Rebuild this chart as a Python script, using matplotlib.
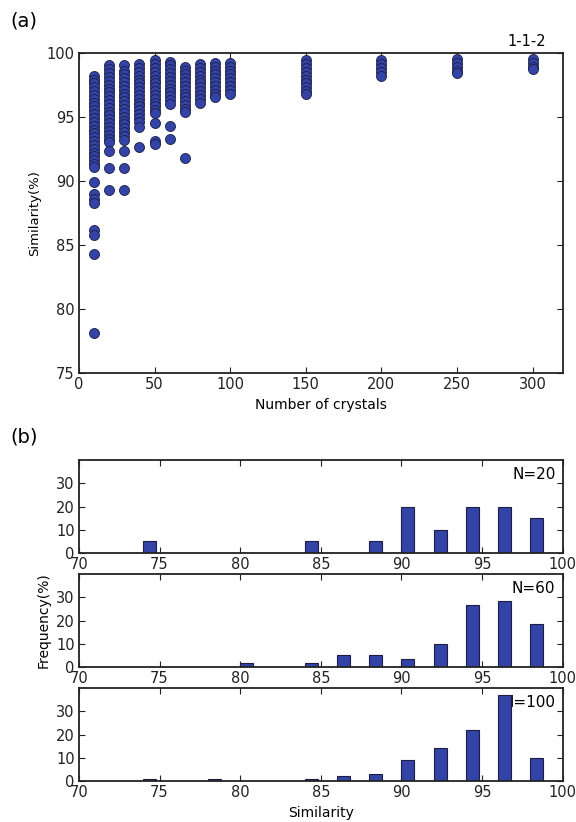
import matplotlib
matplotlib.use('Agg')
import matplotlib.pyplot as plt

plt.rcParams['font.family'] = ['DejaVu Sans']

# (a) similarity vs number of crystals
crystals = [10, 20, 30, 40, 50, 60, 70, 80, 90, 100, 150, 200, 250, 300]
sim_10 = [98.2, 97.9, 97.6, 97.3, 97.0, 96.7, 96.4, 96.1, 95.8, 95.5, 95.2, 94.9,
          94.6, 94.3, 94.0, 93.7, 93.4, 93.1, 92.8, 92.5, 92.2, 91.9, 91.6, 91.3,
          91.1, 89.9, 89.0, 88.6, 88.3, 86.2, 85.8, 84.3, 78.1]
sim_20 = [99.0, 98.7, 98.4, 98.1, 97.8, 97.5, 97.2, 96.9, 96.6, 96.3, 96.0, 95.7,
          95.4, 95.1, 94.8, 94.5, 94.2, 93.9, 93.6, 93.3, 93.0, 92.3, 91.0, 89.3]
sim_30 = [99.0, 98.6, 98.3, 98.0, 97.7, 97.4, 97.1, 96.8, 96.5, 96.2, 95.9, 95.6,
          95.3, 95.0, 94.7, 94.4, 94.1, 93.8, 93.5, 93.2, 92.3, 91.0, 89.3]
sim_40 = [99.1, 98.8, 98.5, 98.2, 97.9, 97.6, 97.3, 97.0, 96.7, 96.4, 96.1, 95.8,
          95.5, 95.2, 94.9, 94.6, 94.2, 92.6]
sim_50 = [99.4, 99.1, 98.8, 98.5, 98.2, 97.9, 97.6, 97.3, 97.0, 96.7, 96.4, 96.1,
          95.8, 95.5, 95.3, 94.5, 93.1, 92.9]
sim_60 = [99.3, 99.0, 98.7, 98.4, 98.1, 97.8, 97.5, 97.2, 96.9, 96.6, 96.3, 96.0,
          94.3, 93.3]
sim_70 = [98.9, 98.6, 98.3, 98.0, 97.7, 97.4, 97.1, 96.8, 96.5, 96.2, 95.9, 95.6,
          95.4, 91.8]
sim_80 = [99.1, 98.8, 98.5, 98.2, 97.9, 97.6, 97.3, 97.0, 96.7, 96.4, 96.1]
sim_90 = [99.2, 98.9, 98.6, 98.3, 98.0, 97.7, 97.4, 97.1, 96.8, 96.5]
sim_100 = [99.2, 98.9, 98.6, 98.3, 98.0, 97.7, 97.4, 97.1, 96.8]
sim_150 = [99.4, 99.1, 98.8, 98.5, 98.2, 97.9, 97.6, 97.3, 97.0, 96.8]
sim_200 = [99.4, 99.1, 98.8, 98.5, 98.2]
sim_250 = [99.5, 99.2, 98.9, 98.6, 98.4]
sim_300 = [99.5, 99.2, 98.9, 98.7]
sim_columns = [sim_10, sim_20, sim_30, sim_40, sim_50, sim_60, sim_70, sim_80,
               sim_90, sim_100, sim_150, sim_200, sim_250, sim_300]

# (b) histograms (left edge of each 2% bin, frequency in %)
bins_20 = [74, 84, 88, 90, 92, 94, 96, 98]
freq_20 = [5, 5, 5, 20, 10, 20, 20, 15]
bins_60 = [80, 84, 86, 88, 90, 92, 94, 96, 98]
freq_60 = [1.7, 1.7, 5.0, 5.0, 3.3, 10.0, 26.7, 28.3, 18.3]
bins_100 = [74, 78, 84, 86, 88, 90, 92, 94, 96, 98]
freq_100 = [1, 1, 1, 2, 3, 9, 14, 22, 37, 10]

hist_bins = [bins_20, bins_60, bins_100]
hist_freq = [freq_20, freq_60, freq_100]
hist_names = ['N=20', 'N=60', 'N=100']

blue = '#3343a6'
edge = '#1c1f45'


def style_ax(ax):
    for s in ax.spines.values():
        s.set_linewidth(1.3)
        s.set_color('#222222')
    ax.tick_params(direction='in', top=True, right=True, length=4, width=0.8,
                   labelsize=10.5, colors='#222222', pad=3)


fig = plt.figure(figsize=(5.76, 8.22), dpi=100)

ax = fig.add_axes([0.137, 0.546, 0.840, 0.390])
for x, ys in zip(crystals, sim_columns):
    ax.scatter([x] * len(ys), ys, s=52, c=blue, edgecolors=edge, linewidths=0.6, zorder=3)
ax.set_xlim(0, 320)
ax.set_ylim(75, 100)
ax.set_xticks([0, 50, 100, 150, 200, 250, 300])
ax.set_yticks([75, 80, 85, 90, 95, 100])
style_ax(ax)
ax.set_xlabel('Number of crystals', fontsize=10)
ax.set_ylabel('Similarity(%)', fontsize=9.5, labelpad=4)
ax.text(0.965, 1.01, '1-1-2', transform=ax.transAxes, ha='right', va='bottom', fontsize=10.5)
fig.text(0.018, 0.975, '(a)', fontsize=14, va='center')
fig.text(0.018, 0.468, '(b)', fontsize=14, va='center')

bottoms = [0.3273, 0.1886, 0.0499]
for i in range(3):
    hx = fig.add_axes([0.137, bottoms[i], 0.840, 0.113])
    hx.bar(hist_bins[i], hist_freq[i], width=0.8, align='edge', color=blue,
           edgecolor=edge, linewidth=0.8, zorder=2)
    hx.set_xlim(70, 100)
    hx.set_ylim(0, 40)
    hx.set_xticks([70, 75, 80, 85, 90, 95, 100])
    hx.set_yticks([0, 10, 20, 30])
    style_ax(hx)
    hx.text(0.985, 0.93, hist_names[i], transform=hx.transAxes, ha='right', va='top',
            fontsize=11, zorder=1)
    if i == 1:
        hx.set_ylabel('Frequency(%)', fontsize=10)
    if i == 2:
        hx.set_xlabel('Similarity', fontsize=10)

fig.savefig('out.png', dpi=100)
